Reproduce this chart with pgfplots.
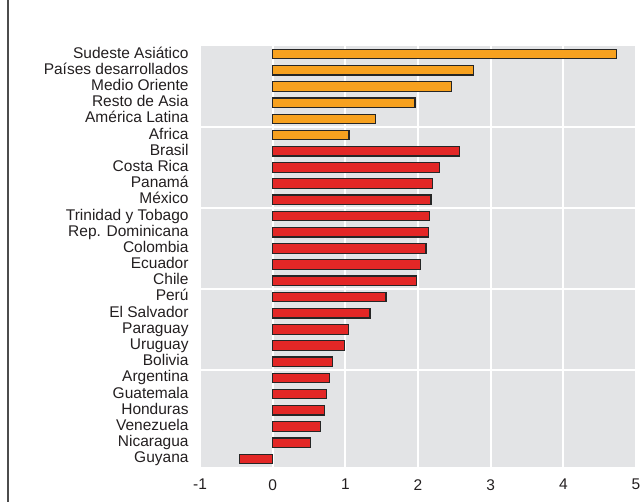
\documentclass[border=0pt]{standalone}
\usepackage{fontspec}
\setmainfont{Liberation Sans}
\usepackage{pgfplots}
\pgfplotsset{compat=1.18}
\definecolor{bggray}{HTML}{E3E4E6}
\definecolor{barorange}{HTML}{F7A11F}
\definecolor{barred}{HTML}{E32726}
\definecolor{txt}{HTML}{231F20}
\begin{document}
\begin{tikzpicture}
\useasboundingbox (-200pt,-35pt) rectangle (440pt,467pt);
\begin{axis}[
    scale only axis,
    width=436pt, height=421pt,
    xmin=-1, xmax=5,
    ymin=-0.5, ymax=25.5,
    y dir=reverse,
    xbar, bar width=9.5pt, bar shift=0pt,
    axis background/.style={fill=bggray},
    axis line style={draw=none},
    tick style={draw=none},
    xtick={-1,0,1,2,3,4,5},
    xmajorgrids,
    grid style={white, line width=1.8pt},
    ytick={0,...,25},
    yticklabels={Sudeste Asiático, Países desarrollados, Medio Oriente, Resto de Asia, América Latina, Africa, Brasil, Costa Rica, Panamá, México, Trinidad y Tobago, Rep. Dominicana, Colombia, Ecuador, Chile, Perú, El Salvador, Paraguay, Uruguay, Bolivia, Argentina, Guatemala, Honduras, Venezuela, Nicaragua, Guyana},
    extra y ticks={4.5,9.5,14.5,19.5},
    extra y tick labels={},
    extra y tick style={grid=major},
    /pgf/number format/assume math mode=true,
    every tick label/.append style={font=\fontsize{15.5}{16}\selectfont, text=txt},
    yticklabel style={inner sep=0pt, xshift=-7pt, text height=11pt, text depth=3pt},
    xticklabel style={inner sep=0pt, yshift=-12pt},
]
\addplot[draw=black!85, line width=1.2pt, fill=barorange] coordinates {
    (4.73,0) (2.76,1) (2.46,2) (1.96,3) (1.42,4) (1.05,5)};
\addplot[draw=black!85, line width=1.2pt, fill=barred] coordinates {
    (2.57,6) (2.30,7) (2.20,8) (2.18,9) (2.16,10) (2.14,11) (2.11,12)
    (2.03,13) (1.98,14) (1.56,15) (1.34,16) (1.04,17) (0.99,18) (0.82,19)
    (0.78,20) (0.74,21) (0.71,22) (0.66,23) (0.52,24) (-0.46,25)};
\end{axis}
\draw[line width=1.5pt, black!70] (-192pt,-35pt) -- (-192pt,467pt);
\end{tikzpicture}
\end{document}
